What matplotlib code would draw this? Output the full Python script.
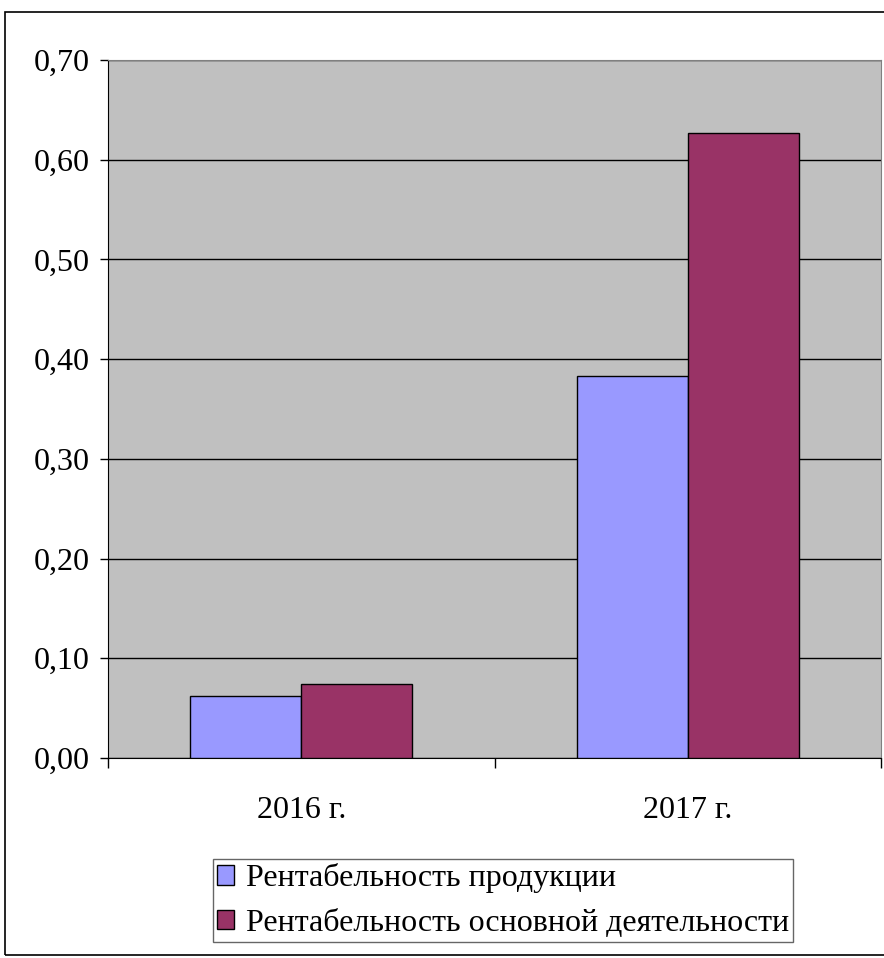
import matplotlib
matplotlib.use("Agg")
import matplotlib.pyplot as plt
from matplotlib.patches import Rectangle
import numpy as np

# данные
years = ["2016 г.", "2017 г."]
rent_prod = [0.0625, 0.383]
rent_osn = [0.074, 0.627]
series_names = ["Рентабельность продукции", "Рентабельность основной деятельности"]
yticks = [0.0, 0.1, 0.2, 0.3, 0.4, 0.5, 0.6, 0.7]

plt.rcParams['font.family'] = ['Liberation Serif', 'DejaVu Serif']
fs = 23

fig = plt.figure(figsize=(8.84, 9.58), dpi=100)
ax = fig.add_axes([108/884, 1 - 758/958, (881-108)/884, (758-60)/958])

# внешняя рамка
fig.patches.append(Rectangle((5/884, 1 - 955/958), 2, (955-12)/958, transform=fig.transFigure,
                             fill=False, edgecolor='black', linewidth=1.2))

x = np.arange(len(years))
w = 0.287
ax.set_facecolor('#C0C0C0')
ax.bar(x - w/2, rent_prod, w, color='#9999FF', edgecolor='black', linewidth=1, zorder=3,
       label=series_names[0])
ax.bar(x + w/2, rent_osn, w, color='#993366', edgecolor='black', linewidth=1, zorder=3,
       label=series_names[1])

ax.set_xlim(-0.5, 1.5)
ax.set_ylim(0, 0.7)
ax.set_yticks(yticks)
ax.set_yticklabels([f"{v:.2f}".replace('.', ',') for v in yticks], fontsize=fs)
ax.yaxis.grid(True, color='black', linewidth=1, zorder=1)
ax.set_axisbelow(True)

ax.set_xticks([-0.5, 0.5, 1.5])
ax.set_xticklabels([])
ax.set_xticks(x, minor=True)
ax.set_xticklabels(years, minor=True, fontsize=fs)
ax.tick_params(axis='x', which='minor', length=0, pad=27)
ax.tick_params(axis='x', which='major', length=7, width=1, direction='out')
ax.tick_params(axis='y', length=6, width=1, direction='out', pad=7)

for s in ['top', 'right']:
    ax.spines[s].set_color('#808080')
ax.spines['left'].set_color('black')
ax.spines['bottom'].set_color('black')

leg = fig.legend(loc='lower left', bbox_to_anchor=(213/884, 1 - 942/958, (798-213)/884, (942-853)/958),
                 fontsize=fs, frameon=True, fancybox=False, edgecolor='#404040',
                 handlelength=0.55, handleheight=0.55, handletextpad=0.35, borderpad=0.12,
                 borderaxespad=0, labelspacing=0.5)
leg.get_frame().set_linewidth(1)

fig.savefig("out.png", dpi=100, facecolor='white')
